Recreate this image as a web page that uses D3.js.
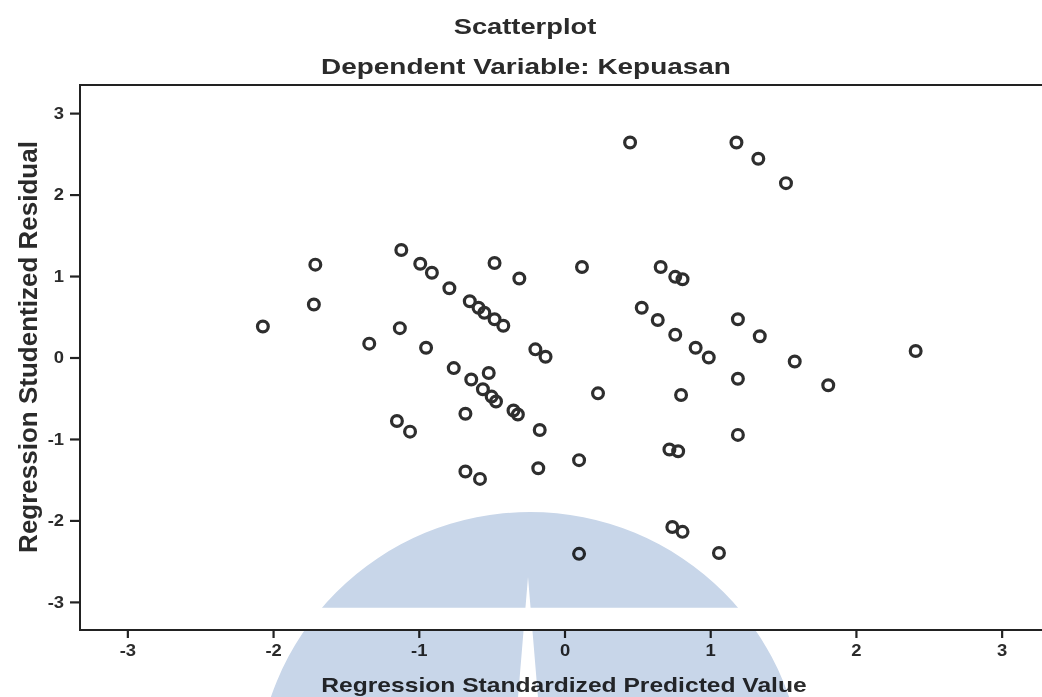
<!DOCTYPE html>
<html>
<head>
<meta charset="utf-8">
<script src="https://cdn.jsdelivr.net/npm/d3@7"></script>
<style>
  html, body { margin: 0; padding: 0; background: #ffffff; }
  svg { display: block; }
  text { font-family: "Liberation Sans", Arial, sans-serif; font-weight: bold; fill: #2b2b2b; }
</style>
</head>
<body>
<svg id="chart" width="1042" height="697"></svg>
<script>
// Regression Standardized Predicted Value (x) for each case
const predicted = [
  -2.07, -1.71, -1.72, -1.34, -1.13, -1.12, -0.99, -0.91, -0.95, -0.79,
  -0.65, -0.59, -0.55, -0.48, -0.42, -0.48, -0.31, -0.76, -0.64, -0.52,
  -0.56, -0.50, -0.47, -0.35, -0.32, -0.68, -0.17, -0.20, -0.13, -1.15,
  -1.06, -0.68, -0.58, -0.18,  0.10,  0.12,  0.45,  0.66,  0.76,  0.81,
   0.53,  0.64,  0.76,  1.19,  1.34,  0.90,  0.99,  1.19,  1.58,  1.81,
   2.41,  0.23,  0.80,  1.19,  0.72,  0.78,  0.10,  1.18,  1.33,  1.52,
   0.74,  0.81,  1.06
];
// Regression Studentized Residual (y) for each case
const residual = [
   0.38,  1.14,  0.65,  0.17,  0.36,  1.32,  1.15,  1.04,  0.12,  0.85,
   0.69,  0.61,  0.55,  0.47,  0.39,  1.16,  0.97, -0.13, -0.27, -0.19,
  -0.39, -0.48, -0.54, -0.65, -0.70, -0.69, -0.89,  0.10,  0.01, -0.78,
  -0.91, -1.40, -1.49, -1.36, -2.41,  1.11,  2.64,  1.11,  0.99,  0.96,
   0.61,  0.46,  0.28,  0.47,  0.26,  0.12,  0.00, -0.26, -0.05, -0.34,
   0.08, -0.44, -0.46, -0.95, -1.13, -1.15, -1.26,  2.64,  2.44,  2.14,
  -2.08, -2.14, -2.40
];
const xTickValues = [-3, -2, -1, 0, 1, 2, 3];
const yTickValues = [-3, -2, -1, 0, 1, 2, 3];
const xDomain = [-3.325, 3.325];
const yDomain = [-3.345, 3.345];

const chartTitle = "Scatterplot";
const chartSubtitle = "Dependent Variable: Kepuasan";
const xLabel = "Regression Standardized Predicted Value";
const yLabel = "Regression Studentized Residual";

const W = 1042, H = 697;
const plot = { left: 80, right: 1049, top: 85, bottom: 630 };
const STRETCH = 1.27;   // horizontal text is drawn wider than the font's natural width

const svg = d3.select("#chart");

const x = d3.scaleLinear().domain(xDomain).range([plot.left, plot.right]);
const y = d3.scaleLinear().domain(yDomain).range([plot.bottom, plot.top]);

// widen horizontal text by a factor while keeping its anchor
function widen(sel, k = STRETCH) {
  sel.each(function () {
    const len = this.getComputedTextLength();
    d3.select(this).attr("textLength", len * k).attr("lengthAdjust", "spacingAndGlyphs");
  });
}

// titles
svg.append("text").attr("x", 525).attr("y", 34).attr("text-anchor", "middle")
  .style("font-size", "21.5px").text(chartTitle).call(widen);
svg.append("text").attr("x", 526).attr("y", 74).attr("text-anchor", "middle")
  .style("font-size", "22px").text(chartSubtitle).call(widen);

// plot frame
svg.append("path")
  .attr("d", `M${plot.right + 10},${plot.top}H${plot.left}V${plot.bottom}H${plot.right + 10}`)
  .attr("fill", "none").attr("stroke", "#222").attr("stroke-width", 2);

// points
svg.append("g").selectAll("circle")
  .data(predicted.map((p, i) => ({ p, r: residual[i] })))
  .join("circle")
  .attr("cx", d => x(d.p))
  .attr("cy", d => y(d.r))
  .attr("r", 5.4)
  .attr("fill", "none")
  .attr("stroke", "#2e2e2e")
  .attr("stroke-width", 3.2);

// axes (plain hyphen for negative tick labels)
const tickFmt = d => String(d);
const xAxis = svg.append("g").attr("transform", `translate(0,${plot.bottom})`)
  .call(d3.axisBottom(x).tickValues(xTickValues).tickFormat(tickFmt)
    .tickSize(8).tickPadding(7));
const yAxis = svg.append("g").attr("transform", `translate(${plot.left},0)`)
  .call(d3.axisLeft(y).tickValues(yTickValues).tickFormat(tickFmt)
    .tickSize(10).tickPadding(6));

[xAxis, yAxis].forEach(a => {
  a.select(".domain").remove();
  a.selectAll(".tick line").attr("stroke", "#222").attr("stroke-width", 2.2);
  a.selectAll(".tick text").attr("fill", "#333")
    .style("font-family", "'Liberation Sans', Arial, sans-serif")
    .style("font-weight", "bold").style("font-size", "16px").call(widen, 1.15);
});

// axis titles
svg.append("text").attr("x", 564).attr("y", 692).attr("text-anchor", "middle")
  .style("font-size", "20.5px").text(xLabel).call(widen, 1.2);
svg.append("text")
  .attr("transform", "translate(37,347) rotate(-90)")
  .attr("text-anchor", "middle")
  .style("font-size", "26px").text(yLabel);

// pale blue emblem laid over the lower part of the page
const mark = svg.append("g").style("mix-blend-mode", "multiply");
const defs = svg.append("defs");
const clip = defs.append("clipPath").attr("id", "markClip");
clip.append("rect").attr("x", 0).attr("y", 0).attr("width", W).attr("height", 607.7);
clip.append("rect").attr("x", 0).attr("y", 631).attr("width", W).attr("height", H - 631);
const cx = 530, cy = 786, R = 274, ax = 528, ay = 577, slope = 0.083;
const yb = H + 20;
const markPath = d3.path();
markPath.moveTo(cx + R, cy);
markPath.arc(cx, cy, R, 0, Math.PI * 2);
markPath.closePath();
markPath.moveTo(ax, ay);
markPath.lineTo(ax - (yb - ay) * slope, yb);
markPath.lineTo(ax + (yb - ay) * slope, yb);
markPath.closePath();
mark.append("path")
  .attr("d", markPath.toString())
  .attr("fill-rule", "evenodd")
  .attr("fill", "#c8d6e9")
  .attr("clip-path", "url(#markClip)");
</script>
</body>
</html>
